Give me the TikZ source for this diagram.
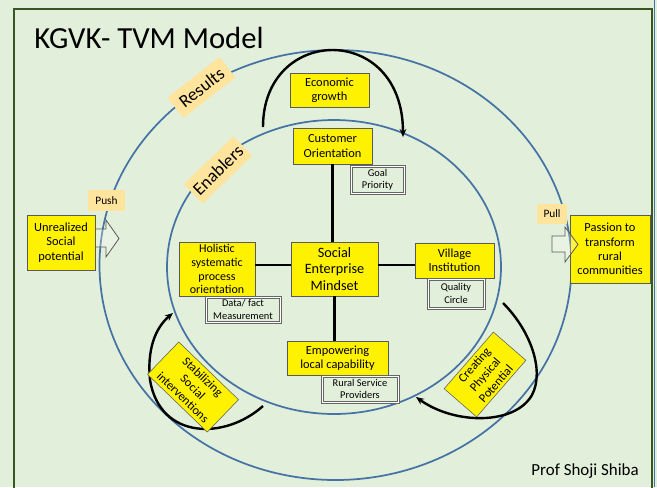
\documentclass[tikz,border=0pt]{standalone}
\usepackage{fontspec}
\setmainfont{Carlito}
\usetikzlibrary{arrows.meta}
\definecolor{bggreen}{RGB}{226,239,218}
\definecolor{framegreen}{RGB}{56,87,35}
\definecolor{ringblue}{RGB}{70,115,165}
\definecolor{tagorange}{RGB}{255,228,158}
\definecolor{boxgray}{RGB}{90,90,90}

\begin{document}
\begin{tikzpicture}[x=0.75pt,y=-0.75pt,
	ybox/.style={draw=boxgray, fill=yellow, align=center, inner sep=0pt, font=\fontsize{9.3}{10.7}\selectfont},
	gbox/.style={draw=gray!80!black, double=white, double distance=0.45pt, line width=0.9pt, align=center, inner sep=0pt, font=\fontsize{7.8}{9.4}\selectfont},
	tag/.style={fill=tagorange, inner sep=0pt, font=\fontsize{8.5}{10}\selectfont},
	bigtag/.style={fill=tagorange, inner sep=0pt, font=\fontsize{13.5}{15}\selectfont},
	ring/.style={draw=ringblue, line width=1.3pt},
	loop/.style={line width=1.8pt, -{Stealth[length=6pt,width=5pt]}},
	link/.style={line width=1.8pt},
	blockarrow/.style={draw=boxgray, line width=0.6pt, fill=white, fill opacity=0.25}]
	\fill[bggreen] (0,0) rectangle (657,487); %背景
	\useasboundingbox (0,0) rectangle (657,487);
	\draw[framegreen, line width=1.6pt] (14,9) rectangle (652,500); %枠
	\draw[ringblue, line width=1.2pt] (654.5,0) -- (654.5,487);
	\node[anchor=base west, inner sep=0pt, font=\fontsize{23}{26}\selectfont] (title) at (34,48) {KGVK- TVM Model};

	\draw[ring] (335.5,265) ellipse [x radius=236, y radius=215]; %Results
	\draw[ring] (334,267) ellipse [x radius=167, y radius=147]; %Enablers

	% 循環の矢印
	\draw[loop] (263,127) .. controls (263,25) and (403,22) .. (403,137);
	\draw[loop] (263,406) .. controls (225,440) and (160,440) .. (150,380) .. controls (147,350) and (155,328) .. (173,313);
	\draw[loop] (503,303) .. controls (530,330) and (545,370) .. (532,395) .. controls (515,425) and (455,425) .. (416,397);

	% Push / Pull
	\draw[blockarrow] (93,229) -- (106,229) -- (106,220) -- (119,238.5) -- (106,257) -- (106,247) -- (93,247) -- cycle;
	\node[ybox, minimum width=51pt, minimum height=41.25pt] (unreal) at (61,242.5) {Unrealized\\Social\\potential};
	\node[tag, minimum width=27.75pt, minimum height=15.75pt] (push) at (106.5,200.5) {Push};
	\node[ybox, minimum width=60pt, minimum height=51pt] (passion) at (610,249) {Passion to\\transform\\rural\\communities};
	\draw[blockarrow] (552,236) -- (565,236) -- (565,227) -- (578,244.5) -- (565,262) -- (565,252) -- (552,252) -- cycle;
	\node[tag, minimum width=22.5pt, minimum height=15pt] (pull) at (552,214) {Pull};

	\node[bigtag, rotate=38, minimum width=49.5pt, minimum height=19.5pt] (res) at (201.5,87.5) {Results};
	\node[bigtag, rotate=44, minimum width=51.75pt, minimum height=20.25pt] (enab) at (218,170) {Enablers};

	% 中心と四つの柱
	\node[ybox, minimum width=59.25pt, minimum height=25.5pt] (eco) at (329.5,90) {Economic\\growth};
	\node[ybox, minimum width=59.25pt, minimum height=27pt] (cust) at (332.5,146) {Customer\\Orientation};
	\node[gbox, minimum width=39.75pt, minimum height=20.25pt] (goal) at (377.5,179.5) {Goal\\Priority};
	\node[ybox, minimum width=65.25pt, minimum height=40.5pt, font=\fontsize{10.7}{12.3}\selectfont] (mind) at (334.5,269) {Social\\Enterprise\\Mindset};
	\node[ybox, minimum width=57pt, minimum height=40.5pt, font=\fontsize{9}{10.4}\selectfont] (hol) at (217,269) {Holistic\\systematic\\process\\orientation};
	\node[gbox, minimum width=55.5pt, minimum height=18.75pt] (data) at (243,309.5) {Data/ fact\\Measurement};
	\node[ybox, minimum width=59.25pt, minimum height=26.25pt] (vil) at (454.5,260.5) {Village\\Institution};
	\node[gbox, minimum width=42pt, minimum height=21.75pt] (qual) at (456,293.5) {Quality\\Circle};
	\node[ybox, minimum width=75.75pt, minimum height=25.5pt] (emp) at (337.5,358) {Empowering\\local capability};
	\node[gbox, minimum width=57pt, minimum height=19.5pt] (rural) at (360,389) {Rural Service\\Providers};

	\draw[link] (cust.south) -- (cust.south |- mind.north);
	\draw[link] ([yshift=3pt]hol.east) -- ([yshift=3pt]mind.west);
	\draw[link] ([yshift=3pt]mind.east) -- ([yshift=3pt]mind.east -| vil.west);
	\draw[link] (mind.south) -- (mind.south |- emp.north);

	\node[ybox, rotate=-44, minimum width=62.25pt, minimum height=33.75pt] (stab) at (193,387) {Stabilizing\\Social\\interventions};
	\node[ybox, rotate=49, minimum width=56.25pt, minimum height=32.25pt] (creat) at (485,374.5) {Creating\\Physical\\Potential};

	\node[anchor=base east, inner sep=0pt, font=\fontsize{12.7}{14}\selectfont] (author) at (639,475) {Prof Shoji Shiba};
\end{tikzpicture}
\end{document}
